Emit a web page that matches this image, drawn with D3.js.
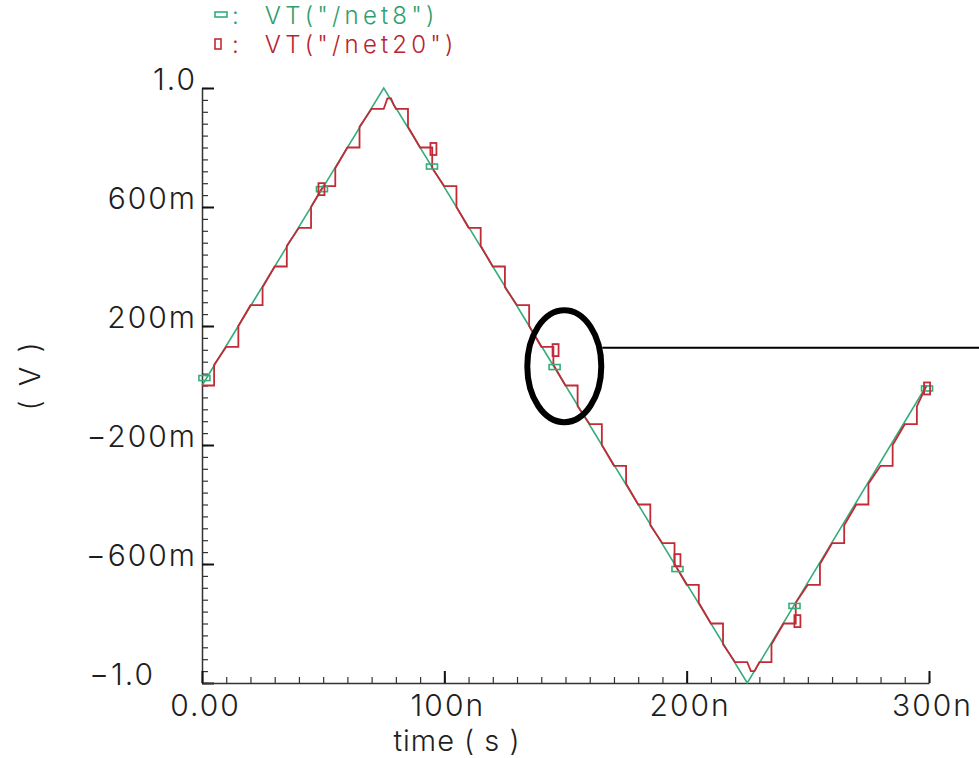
<!DOCTYPE html>
<html>
<head>
<meta charset="utf-8">
<script src="https://cdn.jsdelivr.net/npm/d3@7"></script>
<style>
  body { margin: 0; background: #fff; }
  text { font-family: Inter, "DejaVu Sans", sans-serif; font-weight: 300; fill: #1e1e1e; }
</style>
</head>
<body>
<svg id="chart" width="979" height="758"></svg>
<script>
// ---- data (time in ns, voltage in V) ----
var net8T = [0, 75, 225, 299];
var net8V = [0, 1, -1, 0];

var net8MarkT = [1, 49.5, 94.9, 145.5, 196.2, 244.5, 299.2];
var net8MarkV = [0.025, 0.66, 0.736, 0.062, -0.617, -0.741, -0.01];

var net20MarkT = [49.3, 95.5, 145.9, 196.2, 245.7, 299.2];
var net20MarkV = [0.66, 0.795, 0.119, -0.587, -0.792, -0.01];

// sampled (track & hold) waveform
var net20 = [
  [0,0],[5,0],[5,0.07], [10,0.13],[15,0.13],[15,0.2], [20,0.27],[25,0.27],[25,0.33],
  [30,0.4],[35,0.4],[35,0.47], [40,0.53],[45,0.53],[45,0.6], [50,0.67],[55,0.67],[55,0.73],
  [60,0.8],[65,0.8],[65,0.87], [70,0.93],[75,0.93],[76.5,0.965],[78,0.965],[79,0.945],
  [80,0.93],[85,0.93],[85,0.87], [90,0.8],[95,0.8],[95,0.73], [100,0.67],[105,0.67],[105,0.6],
  [110,0.53],[115,0.53],[115,0.47], [120,0.4],[125,0.4],[125,0.33], [130,0.27],[135,0.27],[135,0.2],
  [140,0.13],[145,0.13],[145,0.07], [150,0],[155,0],[155,-0.07], [160,-0.13],[165,-0.13],[165,-0.2],
  [170,-0.27],[175,-0.27],[175,-0.33], [180,-0.4],[185,-0.4],[185,-0.47], [190,-0.53],[195,-0.53],[195,-0.6],
  [200,-0.67],[205,-0.67],[205,-0.73], [210,-0.8],[215,-0.8],[215,-0.87], [220,-0.93],[225,-0.93],
  [226.5,-0.96],[228,-0.96],[229,-0.945],
  [230,-0.93],[235,-0.93],[235,-0.87], [240,-0.8],[245,-0.8],[245,-0.73], [250,-0.67],[255,-0.67],[255,-0.6],
  [260,-0.53],[265,-0.53],[265,-0.47], [270,-0.4],[275,-0.4],[275,-0.33], [280,-0.27],[285,-0.27],[285,-0.2],
  [290,-0.13],[295,-0.13],[295,-0.07], [299,0]
];

var xMajor = [0, 100, 200, 300];
var xLabels = ["0.00", "100n", "200n", "300n"];
var yMajor = [-1, -0.6, -0.2, 0.2, 0.6, 1];
var yLabels = ["\u22121.0", "\u2212600m", "\u2212200m", "200m", "600m", "1.0"];

var legendNames = ['VT("/net8")', 'VT("/net20")'];
var green = "#35ad7a", red = "#c22a36";

// ---- layout ----
var svg = d3.select("#chart");
var x = d3.scaleLinear().domain([0, 300]).range([202, 929]);
var y = d3.scaleLinear().domain([-1, 1]).range([683, 88]);

// minor ticks
svg.append("g")
  .attr("transform", "translate(202,0)")
  .call(d3.axisLeft(y).tickValues(d3.range(-25, 26).map(function(i){ return i * 0.04; }))
        .tickSize(-6).tickFormat(""))
  .call(function(g){ g.select(".domain").remove(); g.selectAll("line").attr("stroke", "#333").attr("stroke-width", 1.2); });

svg.append("g")
  .attr("transform", "translate(0,683)")
  .call(d3.axisBottom(x).tickValues(d3.range(0, 31).map(function(i){ return i * 10; }))
        .tickSize(-6).tickFormat(""))
  .call(function(g){ g.select(".domain").remove(); g.selectAll("line").attr("stroke", "#333").attr("stroke-width", 1.2); });

// major y axis
var yAxis = svg.append("g")
  .attr("transform", "translate(202,0)")
  .call(d3.axisLeft(y).tickValues(yMajor)
        .tickFormat(function(d, i){ return yLabels[i]; })
        .tickSizeInner(-12).tickSizeOuter(0).tickPadding(5));
yAxis.select(".domain").attr("stroke", "#333").attr("stroke-width", 1.5);
yAxis.selectAll("line").attr("stroke", "#111").attr("stroke-width", 2);
yAxis.selectAll("text")
  .attr("dy", "0.04em")
  .style("font-size", "30px").style("letter-spacing", "2px")
  .attr("font-family", null);
yAxis.selectAll(".tick").filter(function(d){ return d === -1; }).select("text").attr("x", -47);

// major x axis
var xAxis = svg.append("g")
  .attr("transform", "translate(0,683)")
  .call(d3.axisBottom(x).tickValues(xMajor)
        .tickFormat(function(d, i){ return xLabels[i]; })
        .tickSizeInner(-12).tickSizeOuter(0).tickPadding(12));
xAxis.select(".domain").attr("stroke", "#333").attr("stroke-width", 1.5);
xAxis.selectAll("line").attr("stroke", "#111").attr("stroke-width", 2);
xAxis.selectAll("text")
  .attr("dx", 3)
  .style("font-size", "30px").style("letter-spacing", "2px")
  .attr("font-family", null);

// axis titles
svg.append("text").attr("x", 457).attr("y", 751)
  .attr("text-anchor", "middle").style("font-size", "29px").style("letter-spacing", "1px")
  .text("time ( s )");
svg.append("text").attr("transform", "translate(40,375) rotate(-90)")
  .attr("text-anchor", "middle").style("font-size", "29px").style("letter-spacing", "3px")
  .text("( V )");

// traces
var line = d3.line().x(function(d){ return x(d[0]); }).y(function(d){ return y(d[1]); });

svg.append("path")
  .datum(net8T.map(function(t, i){ return [t, net8V[i]]; }))
  .attr("d", line).attr("fill", "none").attr("stroke", green).attr("stroke-width", 1.6);

svg.append("path")
  .datum(net20)
  .attr("d", line).attr("fill", "none").attr("stroke", red).attr("stroke-width", 1.8)
  .attr("stroke-linejoin", "miter");

// markers
svg.selectAll(".m8").data(net8MarkT).enter().append("rect")
  .attr("class", "m8")
  .attr("x", function(d){ return x(d) - 5.5; })
  .attr("y", function(d, i){ return y(net8MarkV[i]) - 2.5; })
  .attr("width", 11).attr("height", 5)
  .attr("fill", "none").attr("stroke", green).attr("stroke-width", 1.6);

svg.selectAll(".m20").data(net20MarkT).enter().append("rect")
  .attr("class", "m20")
  .attr("x", function(d){ return x(d) - 3; })
  .attr("y", function(d, i){ return y(net20MarkV[i]) - 6; })
  .attr("width", 6).attr("height", 12)
  .attr("fill", "none").attr("stroke", red).attr("stroke-width", 1.8);

// legend
var legend = svg.append("g");
legend.append("rect").attr("x", 215).attr("y", 12).attr("width", 12).attr("height", 5)
  .attr("fill", "none").attr("stroke", green).attr("stroke-width", 1.6);
legend.append("rect").attr("x", 215).attr("y", 39).attr("width", 6).attr("height", 10)
  .attr("fill", "none").attr("stroke", red).attr("stroke-width", 1.6);
legend.selectAll(".lt").data(legendNames).enter().append("text")
  .attr("class", "lt")
  .attr("x", 232).attr("y", function(d, i){ return 24 + i * 29; })
  .style("font-size", "24px").style("letter-spacing", "4.2px")
  .style("fill", function(d, i){ return i === 0 ? "#2f9e6c" : "#b8242f"; })
  .text(function(d){ return ":  " + d; })
  .attr("xml:space", "preserve");

// annotation
svg.append("ellipse")
  .attr("cx", x(149.5)).attr("cy", y(0.065))
  .attr("rx", 37).attr("ry", 56)
  .attr("fill", "none").attr("stroke", "#000").attr("stroke-width", 6);
svg.append("line")
  .attr("x1", x(149.5) + 38).attr("x2", 979)
  .attr("y1", y(0.127)).attr("y2", y(0.127))
  .attr("stroke", "#000").attr("stroke-width", 2);
</script>
</body>
</html>
